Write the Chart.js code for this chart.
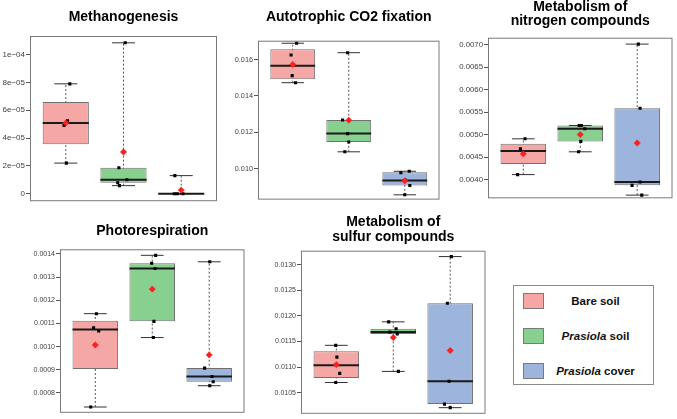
<!DOCTYPE html>
<html>
<head>
<meta charset="utf-8">
<script src="https://cdn.jsdelivr.net/npm/chart.js@4.4.1/dist/chart.umd.min.js"></script>
<style>
  body { margin: 0; background: #fff; width: 677px; height: 419px; overflow: hidden; position: relative; font-family: "Liberation Sans", Arial, sans-serif; }
  canvas { position: absolute; }
  #legend { position: absolute; left: 513px; top: 285px; width: 139px; height: 98px; border: 1px solid #8a8a8a; }
  .item { position: absolute; left: 0; width: 139px; height: 16px; }
  .sw { position: absolute; left: 9px; top: 0; width: 19px; height: 14px; border: 1px solid #7a7a7a; }
  .lab { position: absolute; left: 30px; right: 6px; top: 0; text-align: center; font-weight: bold; font-size: 11.5px; line-height: 16px; color: #111; }
</style>
</head>
<body>
<canvas id="c0"></canvas>
<canvas id="c1"></canvas>
<canvas id="c2"></canvas>
<canvas id="c3"></canvas>
<canvas id="c4"></canvas>
<div id="legend"></div>
<script>
const groups = ['Bare soil', 'Prasiola soil', 'Prasiola cover'];
const groupColors = ['#f4a7a4', '#88d090', '#9db5dd'];
const titles = [
  ['Methanogenesis'],
  ['Autotrophic CO2 fixation'],
  ['Metabolism of', 'nitrogen compounds'],
  ['Photorespiration'],
  ['Metabolism of', 'sulfur compounds']
];

// box stats per group: [min, lower hinge, median, upper hinge, max]
const methanoBox = [[2.2e-5, 3.56e-5, 5.08e-5, 6.6e-5, 7.9e-5], [5.8e-6, 7.9e-6, 1.0e-5, 1.87e-5, 1.085e-4], [0, 0, 0, 3e-7, 1.3e-5]];
const methanoMean = [5.08e-5, 3.0e-5, 2.6e-6];
const methanoPoints = [[7.9e-5, 5.25e-5, 4.9e-5, 2.2e-5], [1.085e-4, 1.87e-5, 1.0e-5, 7.9e-6, 5.8e-6], [1.3e-5, 0, 0, 0]];
const methanoJitter = [[0.07, 0.03, -0.03, 0.01], [0.03, -0.08, 0.06, -0.1, -0.07], [-0.11, -0.12, -0.07, 0.03]];
const methanoTicks = [0, 2e-5, 4e-5, 6e-5, 8e-5, 1e-4];
const methanoLabels = ['0', '2e\u221205', '4e\u221205', '6e\u221205', '8e\u221205', '1e\u221204'];

const co2Box = [[0.01473, 0.014925, 0.01566, 0.01657, 0.0169], [0.01093, 0.01147, 0.01193, 0.01268, 0.01638], [0.008565, 0.00908, 0.00935, 0.0098, 0.00986]];
const co2Mean = [0.01573, 0.01267, 0.00933];
const co2Points = [[0.0169, 0.01625, 0.01512, 0.01473], [0.01638, 0.01268, 0.01193, 0.01147, 0.01093], [0.00986, 0.00978, 0.00937, 0.00908, 0.008565]];
const co2Jitter = [[0.07, -0.03, -0.01, 0.05], [-0.02, -0.11, -0.02, 0, -0.07], [0.08, -0.07, 0.01, 0.09, 0]];
const co2Ticks = [0.010, 0.012, 0.014, 0.016];
const co2Labels = ['0.010', '0.012', '0.014', '0.016'];

const nitroBox = [[0.004115, 0.00435, 0.004638, 0.0048, 0.004909], [0.004621, 0.004851, 0.005133, 0.005205, 0.005205], [0.00366, 0.003877, 0.00395, 0.005587, 0.00701]];
const nitroMean = [0.004575, 0.005003, 0.004815];
const nitroPoints = [[0.004909, 0.004685, 0.00459, 0.004115], [0.005205, 0.005205, 0.005133, 0.004851, 0.004621], [0.00701, 0.005587, 0.00395, 0.003877, 0.00366]];
const nitroJitter = [[0.03, -0.05, 0, -0.1], [-0.02, 0.02, 0.08, 0.01, -0.03], [0.02, 0.05, 0.05, -0.09, 0.08]];
const nitroTicks = [0.0040, 0.0045, 0.0050, 0.0055, 0.0060, 0.0065, 0.0070];
const nitroLabels = ['0.0040', '0.0045', '0.0050', '0.0055', '0.0060', '0.0065', '0.0070'];

const photoBox = [[0.000739, 0.000903, 0.001074, 0.001111, 0.001142], [0.001039, 0.001109, 0.001337, 0.00136, 0.001394], [0.000831, 0.000848, 0.000871, 0.000907, 0.001366]];
const photoMean = [0.001007, 0.001248, 0.000964];
const photoPoints = [[0.001142, 0.001081, 0.001067, 0.000739], [0.001394, 0.00136, 0.001337, 0.001109, 0.001039], [0.001366, 0.000907, 0.000871, 0.000848, 0.000831]];
const photoJitter = [[0.02, -0.03, 0.06, -0.08], [0.06, -0.01, 0.05, 0.03, 0.02], [0.01, -0.08, 0.05, 0.07, 0.01]];
const photoTicks = [0.0008, 0.0009, 0.0010, 0.0011, 0.0012, 0.0013, 0.0014];
const photoLabels = ['0.0008', '0.0009', '0.0010', '0.0011', '0.0012', '0.0013', '0.0014'];

const sulfurBox = [[0.010698, 0.010787, 0.011036, 0.01131, 0.011425], [0.010915, 0.011648, 0.011686, 0.01175, 0.011884], [0.010207, 0.010277, 0.010723, 0.012247, 0.013159]];
const sulfurMean = [0.011048, 0.011577, 0.011323];
const sulfurPoints = [[0.011425, 0.011195, 0.010876, 0.010698], [0.011884, 0.01175, 0.011686, 0.011648, 0.010915], [0.013159, 0.012247, 0.010723, 0.010277, 0.010207]];
const sulfurJitter = [[-0.01, 0.01, 0.06, -0.01], [-0.08, 0.05, -0.06, 0.07, 0.09], [0.02, -0.05, -0.02, -0.1, 0]];
const sulfurTicks = [0.0105, 0.0110, 0.0115, 0.0120, 0.0125, 0.0130];
const sulfurLabels = ['0.0105', '0.0110', '0.0115', '0.0120', '0.0125', '0.0130'];

const panels = [
  { title: titles[0], box: methanoBox, mean: methanoMean, pts: methanoPoints, jit: methanoJitter, ticks: methanoTicks, labels: methanoLabels,
    ymin: -5.4e-6, ymax: 1.134e-4, pos: [0, 0, 222, 207], axisW: 30, pad: [5, 2], tpad: [8.9, 10.3], lh: 1.2, fs: 8 },
  { title: titles[1], box: co2Box, mean: co2Mean, pts: co2Points, jit: co2Jitter, ticks: co2Ticks, labels: co2Labels,
    ymin: 0.0083, ymax: 0.01704, pos: [223, 0, 221, 205], axisW: 35, pad: [2, 1.7], tpad: [8.9, 15.0], lh: 1.2, fs: 7.3 },
  { title: titles[2], box: nitroBox, mean: nitroMean, pts: nitroPoints, jit: nitroJitter, ticks: nitroTicks, labels: nitroLabels,
    ymin: 0.003589, ymax: 0.007152, pos: [444, 0, 233, 204], axisW: 44, pad: [1, 1.7], tpad: [0.3, 9.4], lh: 1.0, fs: 7.8 },
  { title: titles[3], box: photoBox, mean: photoMean, pts: photoPoints, jit: photoJitter, ticks: photoTicks, labels: photoLabels,
    ymin: 0.000714, ymax: 0.00142, pos: [15, 210, 234, 208], axisW: 45, pad: [2, 2], tpad: [12.3, 10.2], lh: 1.2, fs: 7 },
  { title: titles[4], box: sulfurBox, mean: sulfurMean, pts: sulfurPoints, jit: sulfurJitter, ticks: sulfurTicks, labels: sulfurLabels,
    ymin: 0.010087, ymax: 0.013274, pos: [255, 205, 235, 214], axisW: 46, pad: [2, 1.7], tpad: [8.9, 5.6], lh: 1.114, fs: 7 }
];

Chart.defaults.font.family = '"Liberation Sans", Arial, sans-serif';

// draws the grey box round the plot area
const frame = {
  id: 'frame',
  afterDatasetsDraw(chart) {
    const a = chart.chartArea, ctx = chart.ctx;
    ctx.save();
    ctx.strokeStyle = '#7a7a7a';
    ctx.lineWidth = 1;
    ctx.strokeRect(a.left + 0.5, a.top + 0.5, a.right - a.left - 1, a.bottom - a.top - 1);
    ctx.restore();
  }
};

function buildDatasets(p) {
  const whisk = [], caps = [], meds = [], bars = [], dots = [], means = [];
  p.box.forEach((b, i) => {
    const x = i + 1;
    whisk.push({x: x, y: b[0]}, {x: x, y: b[4]}, {x: x, y: null});
    caps.push({x: x - 0.2, y: b[0]}, {x: x + 0.2, y: b[0]}, {x: x, y: null},
              {x: x - 0.2, y: b[4]}, {x: x + 0.2, y: b[4]}, {x: x, y: null});
    meds.push({x: x - 0.4, y: b[2]}, {x: x + 0.4, y: b[2]}, {x: x, y: null});
    bars.push({x: x, y: [b[1], b[3]]});
    p.pts[i].forEach((v, k) => dots.push({x: x + p.jit[i][k], y: v}));
    means.push({x: x, y: p.mean[i]});
  });
  return [
    { type: 'line', data: whisk, borderColor: '#555', borderWidth: 1, borderDash: [2, 2], pointRadius: 0, order: 5 },
    { type: 'bar', data: bars, backgroundColor: groupColors, borderColor: '#707070', borderWidth: 1, borderSkipped: false,
      categoryPercentage: 1, barPercentage: 0.8, order: 4 },
    { type: 'line', data: caps, borderColor: '#333', borderWidth: 1, pointRadius: 0, order: 3 },
    { type: 'line', data: meds, borderColor: '#1a1a1a', borderWidth: 2, pointRadius: 0, order: 2 },
    { type: 'scatter', data: dots, pointStyle: 'rect', pointRadius: 2.2, backgroundColor: '#000', borderColor: '#000', borderWidth: 0, order: 1 },
    { type: 'scatter', data: means, pointStyle: 'rectRot', pointRadius: 3.2, backgroundColor: '#ff1f1f', borderColor: '#ff1f1f', borderWidth: 0.5, order: 0 }
  ];
}

panels.forEach((p, n) => {
  const cv = document.getElementById('c' + n);
  cv.width = p.pos[2];
  cv.height = p.pos[3];
  cv.style.left = p.pos[0] + 'px';
  cv.style.top = p.pos[1] + 'px';
  new Chart(cv, {
    type: 'bar',
    data: { datasets: buildDatasets(p) },
    options: {
      responsive: false,
      animation: false,
      layout: { padding: { left: 0, top: 0, right: p.pad[0], bottom: p.pad[1] } },
      plugins: {
        legend: { display: false },
        tooltip: { enabled: false },
        title: {
          display: true, text: p.title, fullSize: false, color: '#000',
          font: { size: 14, weight: 'bold', lineHeight: p.lh },
          padding: { top: p.tpad[0], bottom: p.tpad[1] }
        }
      },
      scales: {
        x: {
          type: 'linear', display: false, offset: false, min: 0.38, max: 3.62,
          afterBuildTicks: s => { s.ticks = [{value: 1}, {value: 2}, {value: 3}]; }
        },
        y: {
          type: 'linear', min: p.ymin, max: p.ymax, beginAtZero: false,
          afterBuildTicks: s => { s.ticks = p.ticks.map(v => ({value: v})); },
          afterFit: s => { s.width = p.axisW; },
          grid: { display: true, drawOnChartArea: false, drawTicks: true, tickLength: 4, color: '#555' },
          border: { display: false },
          ticks: { autoSkip: false, padding: 1, color: '#404040', font: { size: p.fs },
                   callback: (v, i) => p.labels[i] }
        }
      }
    },
    plugins: [frame]
  });
});

// legend box
const legend = document.getElementById('legend');
groups.forEach((g, i) => {
  const item = document.createElement('div');
  item.className = 'item';
  item.style.top = (7 + i * 35) + 'px';
  const sw = document.createElement('div');
  sw.className = 'sw';
  sw.style.background = groupColors[i];
  const lab = document.createElement('div');
  lab.className = 'lab';
  if (g.startsWith('Prasiola')) {
    const it = document.createElement('i');
    it.textContent = 'Prasiola';
    lab.appendChild(it);
    lab.appendChild(document.createTextNode(g.slice(8)));
  } else {
    lab.textContent = g;
  }
  item.appendChild(sw);
  item.appendChild(lab);
  legend.appendChild(item);
});
</script>
</body>
</html>
